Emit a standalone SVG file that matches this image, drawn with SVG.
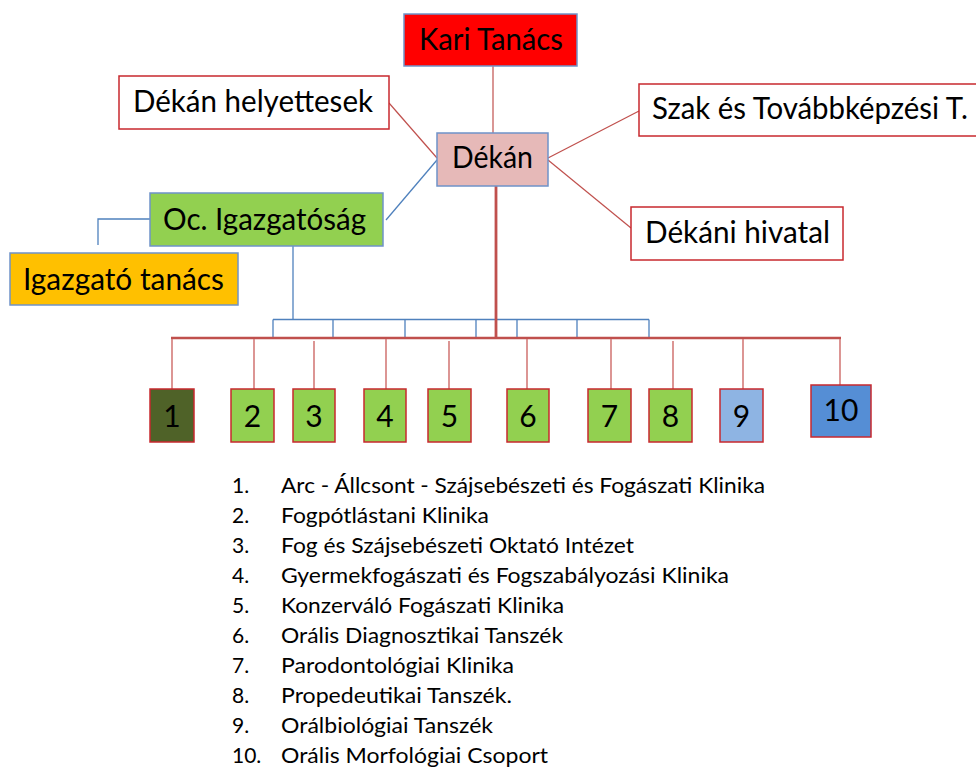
<svg xmlns="http://www.w3.org/2000/svg" width="976" height="769" viewBox="0 0 976 769">
<style>
text{font-family:Lato,"Open Sans","Liberation Sans",sans-serif;fill:#000}
.lbl{font-size:31px}
.num{font-size:30px;text-anchor:middle}
.lst{font-size:21px}
.bs{stroke:#6F93C9;stroke-width:1.5}
.rs{stroke:#C8282E;stroke-width:1.5}
.cr{stroke:#C0504D;stroke-width:1.2;fill:none}
.cb{stroke:#4F81BD;stroke-width:1.3;fill:none}
.dr{stroke:#D47C7A;stroke-width:1.6;fill:none}
</style>
<rect width="976" height="769" fill="#fff"/>
<g id="connectors">
<line class="cr" x1="493" y1="66" x2="493" y2="133"/>
<line class="cr" x1="389" y1="103" x2="437" y2="158"/>
<line class="cb" x1="437" y1="160" x2="386" y2="220"/>
<line class="cr" x1="548" y1="158" x2="639" y2="111"/>
<line class="cr" x1="548" y1="160" x2="631" y2="228"/>
<polyline class="cb" points="150,219 98,219 98,245"/>
<line class="cb" x1="293" y1="246" x2="293" y2="320"/>
<line class="cb" x1="273" y1="319.5" x2="649" y2="319.5"/>
<path class="cb" d="M273,319.5V338M333,319.5V338M405,319.5V338M476,319.5V338M517,319.5V338M577,319.5V338M649,319.5V339"/>
<line stroke="#C0504D" stroke-width="2.8" x1="496" y1="186" x2="496" y2="339"/>
<line stroke="#C0504D" stroke-width="2.6" x1="171" y1="338" x2="841" y2="338"/>
<path class="dr" d="M172,339V389M254,339V389M314,341V389M386,339V389M449,341V389M527,339V389M611,339V389M673,341V389M743,339V389M840,339V385"/>
</g>
<g id="kari-tanacs">
<rect x="404" y="14" width="173" height="52" fill="#FF0000" class="bs"/>
<text class="lbl" x="419" y="50" textLength="144" lengthAdjust="spacingAndGlyphs">Kari Tanács</text>
</g>
<g id="dekan-helyettesek">
<rect x="119" y="76" width="270" height="53" fill="#fff" class="rs"/>
<text class="lbl" x="133" y="112" textLength="240" lengthAdjust="spacingAndGlyphs">Dékán helyettesek</text>
</g>
<g id="dekan">
<rect x="437" y="133" width="111" height="53" fill="#E6B9B8" class="bs"/>
<text class="lbl" x="452" y="168" textLength="81" lengthAdjust="spacingAndGlyphs">Dékán</text>
</g>
<g id="szak">
<rect x="639" y="84" width="345" height="52" fill="#fff" class="rs"/>
<text class="lbl" x="652" y="119" textLength="316" lengthAdjust="spacingAndGlyphs">Szak és Továbbképzési T.</text>
</g>
<g id="dekani-hivatal">
<rect x="631" y="207" width="212" height="53" fill="#fff" class="rs"/>
<text class="lbl" x="645" y="243" textLength="185" lengthAdjust="spacingAndGlyphs">Dékáni hivatal</text>
</g>
<g id="oc-igazgatosag">
<rect x="150" y="193" width="233" height="53" fill="#92D050" class="bs"/>
<text class="lbl" x="163" y="230" textLength="203" lengthAdjust="spacingAndGlyphs">Oc. Igazgatóság</text>
</g>
<g id="igazgato-tanacs">
<rect x="10" y="253" width="228" height="52" fill="#FFC000" class="bs"/>
<text class="lbl" x="23" y="290" textLength="201" lengthAdjust="spacingAndGlyphs">Igazgató tanács</text>
</g>
<g id="n1"><rect x="150" y="389" width="44" height="53" fill="#4F6228" class="rs"/><text class="num" x="172" y="427">1</text></g>
<g id="n2"><rect x="231" y="389" width="43" height="53" fill="#92D050" class="rs"/><text class="num" x="252.5" y="427">2</text></g>
<g id="n3"><rect x="293" y="389" width="42" height="53" fill="#92D050" class="rs"/><text class="num" x="314" y="427">3</text></g>
<g id="n4"><rect x="364" y="389" width="42" height="53" fill="#92D050" class="rs"/><text class="num" x="385" y="427">4</text></g>
<g id="n5"><rect x="428" y="389" width="43" height="53" fill="#92D050" class="rs"/><text class="num" x="449.5" y="427">5</text></g>
<g id="n6"><rect x="507" y="389" width="42" height="53" fill="#92D050" class="rs"/><text class="num" x="528" y="427">6</text></g>
<g id="n7"><rect x="588" y="389" width="43" height="53" fill="#92D050" class="rs"/><text class="num" x="609.5" y="427">7</text></g>
<g id="n8"><rect x="649" y="389" width="43" height="53" fill="#92D050" class="rs"/><text class="num" x="670.5" y="427">8</text></g>
<g id="n9"><rect x="720" y="389" width="43" height="53" fill="#8EB4E3" class="rs"/><text class="num" x="741.5" y="427">9</text></g>
<g id="n10"><rect x="811" y="385" width="60" height="52" fill="#558ED5" class="rs"/><text class="num" x="841" y="421">10</text></g>
<g id="legend">
<text class="lst" x="232" y="493">1.</text>
<text class="lst" x="281" y="493" textLength="484" lengthAdjust="spacingAndGlyphs">Arc - Állcsont - Szájsebészeti és  Fogászati Klinika</text>
<text class="lst" x="232" y="523">2.</text>
<text class="lst" x="281" y="523" textLength="208" lengthAdjust="spacingAndGlyphs">Fogpótlástani Klinika</text>
<text class="lst" x="232" y="553">3.</text>
<text class="lst" x="281" y="553" textLength="353" lengthAdjust="spacingAndGlyphs">Fog és Szájsebészeti Oktató Intézet</text>
<text class="lst" x="232" y="583">4.</text>
<text class="lst" x="281" y="583" textLength="448" lengthAdjust="spacingAndGlyphs">Gyermekfogászati és Fogszabályozási Klinika</text>
<text class="lst" x="232" y="613">5.</text>
<text class="lst" x="281" y="613" textLength="283" lengthAdjust="spacingAndGlyphs">Konzerváló Fogászati Klinika</text>
<text class="lst" x="232" y="643">6.</text>
<text class="lst" x="281" y="643" textLength="282" lengthAdjust="spacingAndGlyphs">Orális Diagnosztikai Tanszék</text>
<text class="lst" x="232" y="673">7.</text>
<text class="lst" x="281" y="673" textLength="233" lengthAdjust="spacingAndGlyphs">Parodontológiai Klinika</text>
<text class="lst" x="232" y="703">8.</text>
<text class="lst" x="281" y="703" textLength="231" lengthAdjust="spacingAndGlyphs">Propedeutikai Tanszék.</text>
<text class="lst" x="232" y="733">9.</text>
<text class="lst" x="281" y="733" textLength="212" lengthAdjust="spacingAndGlyphs">Orálbiológiai Tanszék</text>
<text class="lst" x="232" y="763">10.</text>
<text class="lst" x="281" y="763" textLength="267" lengthAdjust="spacingAndGlyphs">Orális Morfológiai Csoport</text>
</g>
</svg>
